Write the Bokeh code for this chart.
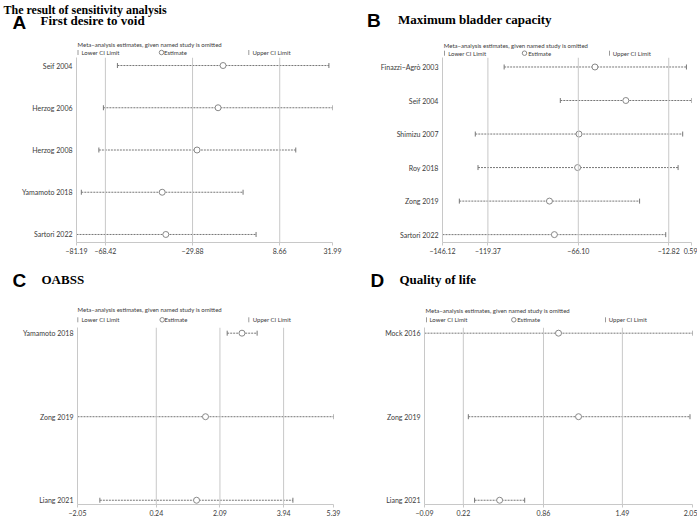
import math
from bokeh.plotting import figure
from bokeh.models import Span, FixedTicker, Range1d, ColumnDataSource
from bokeh.core.properties import value
from bokeh.layouts import column, row
from bokeh.embed import file_html
from bokeh.resources import INLINE

# ---------------- data ----------------
MAIN_TITLE = "The result of sensitivity analysis"

A_studies = ["Seif 2004", "Herzog 2006", "Herzog 2008", "Yamamoto 2018", "Sartori 2022"]
A_lower = [-63.1, -69.3, -71.3, -79.05, -81.19]
A_est = [-16.4, -18.6, -27.9, -43.3, -41.7]
A_upper = [30.4, 31.99, 15.75, -7.55, -1.8]
A_ticks = [-81.19, -68.42, -29.88, 8.66, 31.99]

B_studies = ["Finazzi\u2212Agrò 2003", "Seif 2004", "Shimizu 2007", "Roy 2018", "Zong 2019", "Sartori 2022"]
B_lower = [-109.8, -76.7, -126.8, -125.2, -136.2, -146.12]
B_est = [-56.3, -38.1, -65.7, -66.5, -83.1, -80.2]
B_upper = [-2.4, 0.59, -4.6, -7.3, -30.0, -14.6]
B_ticks = [-146.12, -119.37, -66.10, -12.82, 0.59]

C_studies = ["Yamamoto 2018", "Zong 2019", "Liang 2021"]
C_lower = [2.30, -2.05, -1.40]
C_est = [2.73, 1.67, 1.41]
C_upper = [3.17, 5.39, 4.21]
C_ticks = [-2.05, 0.24, 2.09, 3.94, 5.39]

D_studies = ["Mock 2016", "Zong 2019", "Liang 2021"]
D_lower = [-0.09, 0.26, 0.31]
D_est = [0.98, 1.14, 0.51]
D_upper = [2.05, 2.03, 0.71]
D_ticks = [-0.09, 0.22, 0.86, 1.49, 2.05]

LEGEND_TITLE = "Meta\u2212analysis estimates, given named study is omitted"
LEGEND_ITEMS = ["Lower CI Limit", "Estimate", "Upper CI Limit"]

LIGHT = "#c8c8c8"
CI_COL = "#777777"
TXT = "#3a3a3a"
FONT = "Lato"
W = 697


def fmt(v):
    return f"{v:.2f}".replace("-", "\u2212")


def txt(p, x, y, s, size, color=TXT, font=FONT, style="normal", baseline="middle"):
    p.text(x=[x], y=[y], text=[s], text_font=value(font), text_font_size=f"{size}px",
           text_color=color, text_font_style=style, text_baseline=baseline,
           text_align="left")


def make_header(h, panels, main_title=False):
    p = figure(width=W, height=h, output_backend="svg", toolbar_location=None,
               x_range=Range1d(0, W), y_range=Range1d(h, 0),
               x_axis_location=None, y_axis_location=None)
    p.min_border = 0
    p.outline_line_color = None
    p.xgrid.visible = False
    p.ygrid.visible = False
    if main_title:
        txt(p, 3, 9, MAIN_TITLE, 12, color="black", font="Liberation Serif",
            style="bold", baseline="alphabetic")
    for letter, title, letter_xy, title_xy, leg in panels:
        txt(p, letter_xy[0], letter_xy[1], letter, 19, color="black",
            font="Liberation Sans", style="bold")
        txt(p, title_xy[0], title_xy[1], title, 13, color="black",
            font="Liberation Serif", style="bold")
        (tx, ty), row_y, (lb, lt), (ec, et), (ub, ut) = leg
        txt(p, tx, ty, LEGEND_TITLE, 6)
        txt(p, lt, row_y, LEGEND_ITEMS[0], 6)
        txt(p, et, row_y, LEGEND_ITEMS[1], 6)
        txt(p, ut, row_y, LEGEND_ITEMS[2], 6)
        p.scatter(x=[lb, ub], y=[row_y, row_y], marker="dash", angle=math.pi / 2,
                  size=5, line_color="#9a9a9a", line_width=1)
        p.scatter(x=[ec], y=[row_y], marker="circle", size=4.5, fill_color="white",
                  line_color="#8a8a8a", line_width=1)
    return p


def make_plot(w, h, bl, br, bb, studies, lower, est, upper, ticks, pad_top, pad_bot):
    n = len(studies)
    ys = list(range(n, 0, -1))
    p = figure(width=w, height=h, output_backend="svg", toolbar_location=None,
               x_range=Range1d(ticks[0], ticks[-1]),
               y_range=Range1d(1 - pad_bot, n + pad_top))
    p.min_border = 0
    p.min_border_left = bl
    p.min_border_right = br
    p.min_border_top = 0
    p.min_border_bottom = bb
    p.outline_line_color = None
    p.xgrid.visible = False
    p.ygrid.visible = False

    for v in ticks[1:4]:
        p.add_layout(Span(location=v, dimension="height", line_color=LIGHT, line_width=1))

    src = ColumnDataSource(dict(y=ys, lo=lower, est=est, hi=upper))
    p.segment(x0="lo", y0="y", x1="hi", y1="y", source=src, line_color=CI_COL,
              line_width=1, line_dash="2 1")
    p.scatter(x="lo", y="y", source=src, marker="dash", angle=math.pi / 2, size=5,
              line_color=CI_COL, line_width=1)
    p.scatter(x="hi", y="y", source=src, marker="dash", angle=math.pi / 2, size=5,
              line_color=CI_COL, line_width=1)
    p.scatter(x="est", y="y", source=src, marker="circle", size=6,
              fill_color="white", line_color="#888888", line_width=1)

    xa = p.xaxis[0]
    xa.ticker = FixedTicker(ticks=ticks)
    xa.major_label_overrides = {t: fmt(t) for t in ticks}
    xa.axis_line_color = LIGHT
    xa.major_tick_line_color = LIGHT
    xa.major_tick_out = 3
    xa.major_tick_in = 0
    xa.minor_tick_line_color = None
    xa.major_label_standoff = 2
    xa.major_label_text_font = FONT
    xa.major_label_text_font_size = "7px"
    xa.major_label_text_color = TXT

    ya = p.yaxis[0]
    ya.ticker = FixedTicker(ticks=ys)
    ya.major_label_overrides = {y: s for y, s in zip(ys, studies)}
    ya.axis_line_color = LIGHT
    ya.major_tick_line_color = None
    ya.major_tick_out = 0
    ya.major_tick_in = 0
    ya.minor_tick_line_color = None
    ya.major_label_standoff = 4
    ya.major_label_text_font = FONT
    ya.major_label_text_font_size = "7px"
    ya.major_label_text_color = TXT
    return p


hTop = make_header(57, [
    ("A", "First desire to void", (12, 21.5), (40, 20),
     ((77, 44), 52, (77.5, 81), (161, 163.5), (248.3, 252))),
    ("B", "Maximum bladder capacity", (366.5, 20), (397.5, 19.3),
     ((443.3, 45), 52.7, (444, 447.7), (524, 527.7), (609, 612.3))),
], main_title=True)
pA = make_plot(350, 211, 76, 18, 26, A_studies, A_lower, A_est, A_upper, A_ticks, 0.19, 0.19)
pB = make_plot(347, 211, 92, 6, 17, B_studies, B_lower, B_est, B_upper, B_ticks, 0.283, 0.235)

hBot = make_header(59, [
    ("C", "OABSS", (12, 11.5), (41, 11),
     ((77, 41.3), 51.3, (77.3, 81), (161.7, 164), (248.3, 252.3))),
    ("D", "Quality of life", (370, 11.5), (399, 11),
     ((425, 42), 51.3, (426, 429), (513.3, 516.7), (605, 608.3))),
])
pC = make_plot(350, 191, 77, 17, 13, C_studies, C_lower, C_est, C_upper, C_ticks, 0.068, 0.051)
pD = make_plot(347, 191, 74, 5, 13, D_studies, D_lower, D_est, D_upper, D_ticks, 0.068, 0.051)

layout = column(hTop, row(pA, pB), hBot, row(pC, pD))
open("out.html", "w").write(file_html(layout, INLINE))
